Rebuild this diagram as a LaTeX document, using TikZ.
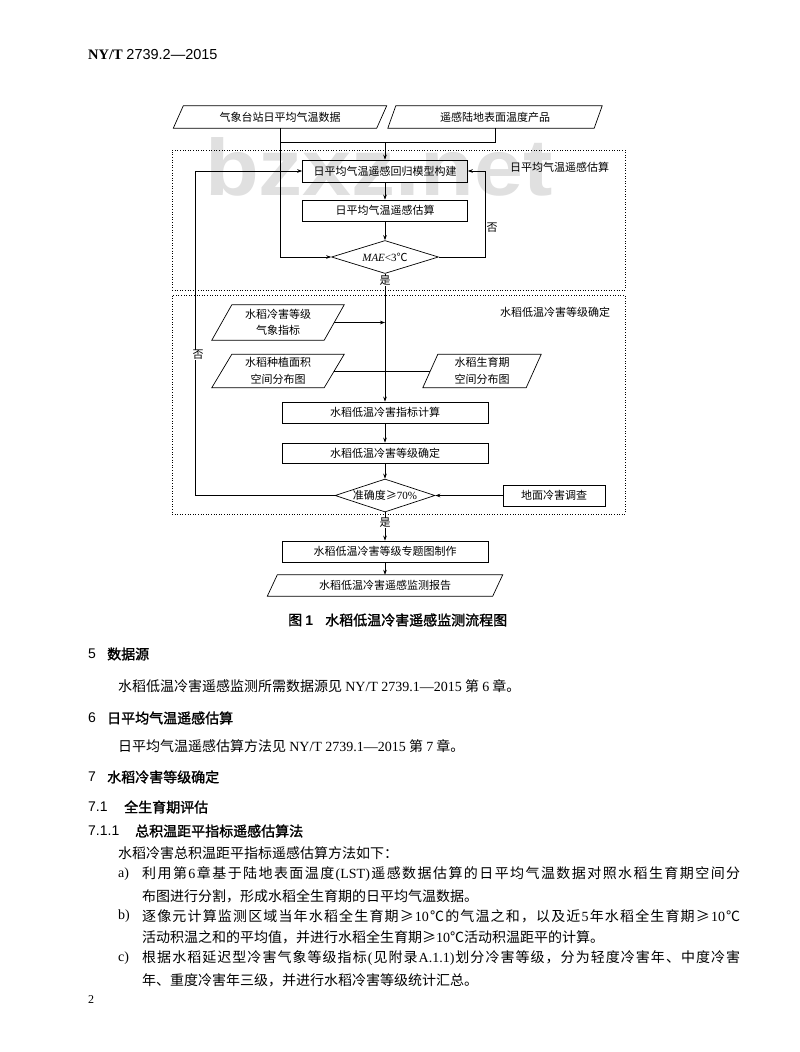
\documentclass[tikz,border=0pt]{standalone}
\usepackage{fontspec}
\setmainfont{Liberation Serif}
\newfontfamily\cjk{Noto Sans CJK SC}
\newfontfamily\cjkh{Noto Sans CJK SC}[FakeBold=1.5]
\newfontfamily\sans{Liberation Sans}
\newfontfamily\wmfont{Liberation Sans Bold}
\usetikzlibrary{shapes.geometric,arrows.meta}
\newcommand\lat[1]{{\rmfamily #1}}
\newcommand\sprd[1]{\makebox[598pt][s]{\sprdA#1\relax}}
\def\sprdA#1{#1\sprdB}
\def\sprdB#1{\ifx\relax#1\else\hskip0pt plus 1fil #1\expandafter\sprdB\fi}
\newcommand\drawpara[2]{\draw[ln] ([xshift=#2]#1.north west) -- ([xshift=#2]#1.north east) -- ([xshift=-#2]#1.south east) -- ([xshift=-#2]#1.south west) -- cycle;}
\tikzset{
  ln/.style={line width=0.7pt},
  arr/.style={-{Stealth[length=5pt,width=3.6pt]}, line width=0.7pt},
  box/.style={draw, line width=0.7pt, inner sep=0pt, font=\cjk\fontsize{11}{13}\selectfont},
  pbox/.style={inner sep=0pt, align=center, font=\cjk\fontsize{11}{16.5}\selectfont},
  dia/.style={diamond, draw, line width=0.7pt, inner sep=0pt, shape aspect=3, font=\cjk\fontsize{11}{13}\selectfont},
  frame/.style={draw, dotted, line width=0.6pt, inner sep=0pt},
  lbl/.style={inner sep=0pt, font=\cjk\fontsize{11}{13}\selectfont},
  yn/.style={inner sep=0.6pt, fill=white, font=\cjk\fontsize{11}{13}\selectfont},
  body/.style={anchor=west, inner sep=0pt, font=\cjk\fontsize{14}{16}\selectfont},
  head/.style={anchor=west, inner sep=0pt, font=\cjkh\fontsize{14}{16}\selectfont},
  num/.style={anchor=west, inner sep=0pt, font=\sans\fontsize{14}{16}\selectfont}
}
\begin{document}
\begin{tikzpicture}[x=1pt,y=-1pt]
\fill[white] (0,0) rectangle (800,1052);
\useasboundingbox (0,0) rectangle (800,1052);

% watermark
\node[anchor=base west, inner sep=0pt, text=black!12, font=\wmfont\fontsize{80}{80}\selectfont] (wm) at (205,195) {\scalebox{1.1}[1]{bzxz.net}};

% header
\node[anchor=west, inner sep=0pt, font=\fontsize{14.5}{16}\selectfont] (hdr) at (88,55) {\textbf{NY/T}\ {\sans 2739.2—2015}};

% frames
\node[frame, minimum width=453pt, minimum height=140pt] (F1) at (398.5,220) {};
\node[frame, minimum width=453pt, minimum height=219pt] (F2) at (398.5,404.5) {};
\node[lbl] (L1) at (559.5,167) {日平均气温遥感估算};
\node[lbl] (L2) at (555,312) {水稻低温冷害等级确定};

% inputs
\node[pbox, minimum width=203pt, minimum height=22pt] (PL) at (280,117) {气象台站日平均气温数据};
\node[pbox, minimum width=206pt, minimum height=22pt] (PR) at (495,117) {遥感陆地表面温度产品};
\drawpara{PL}{5}
\drawpara{PR}{4}

% upper part
\node[box, minimum width=165pt, minimum height=22pt] (B1) at (385,171) {日平均气温遥感回归模型构建};
\node[box, minimum width=165pt, minimum height=21pt] (B2) at (385,210.5) {日平均气温遥感估算};
\node[dia, minimum width=107pt, minimum height=33pt] (D1) at (385,257) {\lat{\itshape MAE}\lat{<3}℃};

% lower part
\node[pbox, minimum width=112pt, minimum height=35pt] (PA) at (278,322.5) {水稻冷害等级\\气象指标};
\node[pbox, minimum width=112pt, minimum height=33pt] (PB) at (278,371) {水稻种植面积\\空间分布图};
\node[pbox, minimum width=103pt, minimum height=33pt] (PC) at (482,371) {水稻生育期\\空间分布图};
\drawpara{PA}{10}
\drawpara{PB}{10}
\drawpara{PC}{7.5}
\node[box, minimum width=206pt, minimum height=21pt] (B3) at (385,412.5) {水稻低温冷害指标计算};
\node[box, minimum width=206pt, minimum height=20pt] (B4) at (385,453) {水稻低温冷害等级确定};
\node[dia, minimum width=100pt, minimum height=33pt] (D2) at (385,495.5) {准确度≥\lat{70\%}};
\node[box, minimum width=102pt, minimum height=21pt] (G) at (554,495.5) {地面冷害调查};
\node[box, minimum width=206pt, minimum height=21pt] (B5) at (385,551.5) {水稻低温冷害等级专题图制作};
\node[pbox, minimum width=225pt, minimum height=21pt] (RP) at (385,585.5) {水稻低温冷害遥感监测报告};
\drawpara{RP}{5}

% connectors
\coordinate (j1) at (280,142);
\coordinate (j2) at (385,142);
\coordinate (lp) at (195,171);
\draw[arr] (PL.south) |- (D1.west);
\draw[ln] (PR.south) |- (j1);
\draw[arr] (j2) -- (B1.north);
\draw[arr] (B1) -- (B2);
\draw[arr] (B2) -- (D1);
\draw[arr] (D1.east) -- ++(46,0) |- (B1.east);
\draw[arr] (D1.south) -- (B3.north);
\draw[arr] (PA.east) -- (PA.east -| D1.south);
\draw[ln] (PB.east) -- (PC.west);
\draw[arr] (B3) -- (B4);
\draw[arr] (B4) -- (D2);
\draw[arr] (G) -- (D2.east);
\draw[arr] (D2.west) -| (lp) -- (B1.west);
\draw[arr] (D2.south) -- (B5.north);
\draw[arr] (B5) -- (RP);
\node[lbl] (no1) at (492,228) {否};
\node[yn] (no2) at (198,355) {否};
\node[yn] (yes1) at (385,281) {是};
\node[yn] (yes2) at (385,523) {是};

% caption
\node[anchor=west, inner sep=0pt, font=\cjkh\fontsize{14}{16}\selectfont] (cap1) at (288,620) {图 {\sans\bfseries 1}};
\node[anchor=west, inner sep=0pt, font=\cjkh\fontsize{14}{16}\selectfont] (cap2) at (325,620) {水稻低温冷害遥感监测流程图};

% text
\node[num] (n5) at (88,654) {5};
\node[head] (h5) at (107,654) {数据源};
\node[body] (t5) at (118,686) {水稻低温冷害遥感监测所需数据源见 \lat{NY/T 2739.1—2015} 第 \lat{6} 章。};
\node[num] (n6) at (88,718) {6};
\node[head] (h6) at (107,718) {日平均气温遥感估算};
\node[body] (t6) at (118,746) {日平均气温遥感估算方法见 \lat{NY/T 2739.1—2015} 第 \lat{7} 章。};
\node[num] (n7) at (88,777) {7};
\node[head] (h7) at (107,777) {水稻冷害等级确定};
\node[num] (n71) at (88,807) {7.1};
\node[head] (h71) at (124,807) {全生育期评估};
\node[num] (n711) at (88,831) {7.1.1};
\node[head] (h711) at (135,831) {总积温距平指标遥感估算法};
\node[body] (intro) at (118,853) {水稻冷害总积温距平指标遥感估算方法如下：};
\node[body] (ma) at (118,874) {\lat{a)}};
\node[body] (a1) at (142,874) {\sprd{利用第{\lat{6}}章基于陆地表面温度{\lat{(LST)}}遥感数据估算的日平均气温数据对照水稻生育期空间分}};
\node[body] (a2) at (142,896) {布图进行分割，形成水稻全生育期的日平均气温数据。};
\node[body] (mb) at (118,916) {\lat{b)}};
\node[body] (b1) at (142,916) {\sprd{逐像元计算监测区域当年水稻全生育期≥{\lat{10}}℃的气温之和，以及近{\lat{5}}年水稻全生育期≥{\lat{10}}℃}};
\node[body] (b2) at (142,937) {活动积温之和的平均值，并进行水稻全生育期≥\lat{10}℃活动积温距平的计算。};
\node[body] (mc) at (118,958) {\lat{c)}};
\node[body] (c1) at (142,958) {\sprd{根据水稻延迟型冷害气象等级指标{\lat{(}}见附录{\lat{A.1.1)}}划分冷害等级，分为轻度冷害年、中度冷害}};
\node[body] (c2) at (142,980) {年、重度冷害年三级，并进行水稻冷害等级统计汇总。};
\node[anchor=west, inner sep=0pt, font=\fontsize{12}{14}\selectfont] (pg) at (88,1000) {2};
\end{tikzpicture}
\end{document}
